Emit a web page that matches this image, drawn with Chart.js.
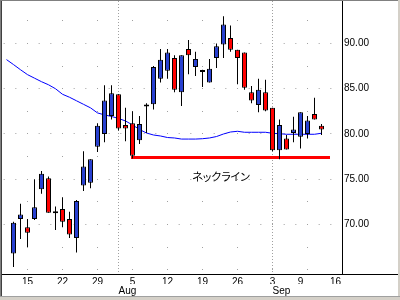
<!DOCTYPE html>
<html>
<head>
<meta charset="utf-8">
<script src="https://cdn.jsdelivr.net/npm/chart.js@4.4.0/dist/chart.umd.min.js"></script>
<style>
  html, body { margin: 0; padding: 0; background: #fff; }
  #wrap { width: 400px; height: 300px; }
</style>
</head>
<body>
<div id="wrap"><canvas id="candles" width="400" height="300"></canvas></div>
<script>
// trading days shown, Jul 10 .. Sep 16
var dates = ['07-10','07-11','07-12','07-15','07-16','07-17','07-18','07-19','07-22','07-23','07-24','07-25','07-26','07-29','07-30','07-31',
  '08-01','08-02','08-05','08-06','08-07','08-08','08-09','08-12','08-13','08-14','08-15','08-16','08-19','08-20','08-21','08-22','08-23',
  '08-26','08-27','08-28','08-29','08-30','09-03','09-04','09-05','09-06','09-09','09-10','09-11','09-12','09-13','09-16'];

var opens = [null, 66.8, 70.6, 69.7, 70.6, 73.9, 75.1, 71.25, 71.7, 70.6, 68.5, 74.3, 74.6, 78.6, 80.0, 82.0,
  84.4, 81.0, 81.2, 79.3, 83.05, 83.3, 86.1, 87.0, 88.4, 84.6, 89.4, 87.4, 86.85, 85.7, 88.4, 89.9, 90.6,
  89.3, 89.0, 84.6, 83.2, 84.6, 82.9, 78.2, 79.5, 80.1, 79.7, 80.0, 82.2, 80.9, null, null];
var highs = [null, 70.3, 72.3, 70.6, 75.0, 75.9, 75.3, 72.0, 73.0, 71.4, 72.7, 78.1, 77.2, 81.2, 85.4, 85.4,
  84.4, 82.9, 82.5, 82.0, 83.4, 87.5, 89.4, 89.4, 88.7, 88.7, 90.4, 89.1, 87.1, 88.3, 90.0, 93.0, 92.0,
  89.3, 89.0, 85.3, 86.1, 86.0, 82.9, 81.6, 79.9, 81.9, 82.4, 82.0, 84.0, 81.1, null, null];
var lows = [null, 65.3, 68.4, 67.5, 70.5, 73.4, 71.3, 69.4, 69.7, 68.5, 66.9, 73.7, 74.0, 78.0, 79.1, 81.6,
  80.4, 79.2, 77.3, 78.9, 80.1, 82.7, 85.7, 86.1, 84.6, 83.1, 86.6, 86.4, 85.2, 85.7, 87.3, 88.4, 89.1,
  85.5, 84.9, 83.4, 82.4, 82.5, 78.1, 77.2, 78.3, 79.1, 78.4, 79.5, 81.6, 79.9, null, null];
var closes = [null, 70.2, 71.1, 69.1, 71.9, 75.6, 71.3, 71.25, 70.3, 68.9, 72.6, 76.4, 77.2, 80.9, 83.7, 84.5,
  80.6, 80.6, 77.6, 81.1, 83.05, 87.4, 88.2, 89.0, 84.9, 88.7, 88.7, 88.3, 86.85, 87.2, 89.7, 92.1, 89.3,
  88.4, 85.1, 83.7, 84.9, 82.6, 78.2, 81.0, 78.3, 80.5, 82.4, 81.5, 81.6, 80.5, null, null];
// moving average
var avg = [88.22, 87.67, 87.1, 86.56, 86.17, 85.78, 85.44, 85.0, 84.39, 84.06, 83.67, 83.28, 82.89, 82.33, 82.11, 81.94,
  81.72, 81.44, 81.0, 80.5, 80.11, 79.89, 79.78, 79.61, 79.56, 79.44, 79.44, 79.44, 79.48, 79.56, 79.72, 80.0, 80.22,
  80.3, 80.19, 80.19, 80.19, 80.19, 80.08, 80.03, 79.97, 79.97, 79.97, 79.97, 79.97, 80.08, null, null];

var weekTicks = ['07-15','07-22','07-29','08-05','08-12','08-19','08-26','09-03','09-09','09-16'];
var weekLabels = ['15','22','29','5','12','19','26','3','9','16'];
var monthTicks = ['08-01','09-03'];
var monthLabels = ['Aug','Sep'];
var priceTicks = [70, 75, 80, 85, 90];
var minorTicks = [65, 67.5, 72.5, 77.5, 82.5, 87.5, 92.5];
var neckDates = ['08-05','09-13'];
var neckValue = 77.4;
var neckText = 'ネックライン';

var UP = '#2840d0', DOWN = '#ff0000';

var pos = function (d) { return dates.indexOf(d); };

var wickData = [], bodyData = [], bodyColors = [], avgData = [];
dates.forEach(function (d, i) {
  if (opens[i] !== null) {
    wickData.push({x: i, y: [lows[i], highs[i]]});
    bodyData.push({x: i, y: [opens[i], closes[i]]});
    bodyColors.push(closes[i] > opens[i] ? UP : (closes[i] < opens[i] ? DOWN : '#000'));
  }
  if (avg[i] !== null) avgData.push({x: i, y: avg[i]});
});
var neckData = neckDates.map(function (d) { return {x: pos(d), y: neckValue}; });

// 7px per day, Jul 15 sits at x=27
var xMin = -0.643, xMax = 47.929;
var yMin = 64.53, yMax = 94.696;

Chart.defaults.font.family = '"Liberation Sans", Arial, sans-serif';
Chart.defaults.font.size = 10;
Chart.defaults.color = '#000';

var noPad = function (s) { s.paddingTop = 0; s.paddingBottom = 0; };

var frame = {
  id: 'frame',
  beforeDraw: function (chart) {
    var ctx = chart.ctx;
    ctx.save();
    ctx.fillStyle = '#fff';
    ctx.fillRect(0, 0, chart.width, chart.height);
    ctx.restore();
  },
  afterDraw: function (chart) {
    var ctx = chart.ctx, a = chart.chartArea;
    ctx.save();
    // bottom axis line runs under the price labels too
    ctx.fillStyle = '#000';
    ctx.fillRect(a.right, a.bottom, chart.width - a.right, 1);

    var x = chart.scales.x.getPixelForValue(30.57);
    var y = chart.scales.y.getPixelForValue(75.3);
    ctx.font = '11px "Noto Sans CJK JP"';
    if ('letterSpacing' in ctx) ctx.letterSpacing = '-1.5px';
    ctx.textAlign = 'center';
    ctx.textBaseline = 'middle';
    ctx.fillText(neckText, x, y);
    if ('letterSpacing' in ctx) ctx.letterSpacing = '0px';

    // window edges
    ctx.fillStyle = '#808080';
    ctx.fillRect(0, 0, chart.width, 1);
    ctx.fillRect(0, 0, 1, chart.height);
    ctx.fillStyle = '#404040';
    ctx.fillRect(1, 1, 1, 295);
    ctx.fillStyle = '#a0a0a0';
    ctx.fillRect(0, 296, chart.width, 1);
    ctx.fillStyle = '#d4d0c8';
    ctx.fillRect(0, 297, chart.width, 3);
    ctx.fillRect(398, 0, 2, 296);
    ctx.restore();
  }
};

new Chart(document.getElementById('candles'), {
  type: 'bar',
  data: {
    datasets: [
      {type: 'bar', data: bodyData, backgroundColor: bodyColors, borderColor: '#000', borderWidth: 1,
        borderSkipped: false, barThickness: 5, minBarLength: 2, inflateAmount: 0, grouped: false, order: 0},
      {type: 'bar', data: wickData, backgroundColor: '#000', borderWidth: 0,
        barThickness: 1, inflateAmount: 0, grouped: false, order: 1},
      {type: 'line', data: avgData, borderColor: '#0000ff', borderWidth: 1, pointRadius: 0,
        tension: 0, fill: false, order: 2},
      {type: 'line', data: neckData, borderColor: '#ff0000', borderWidth: 3, pointRadius: 0,
        borderCapStyle: 'square', fill: false, order: 3}
    ]
  },
  options: {
    responsive: false,
    animation: false,
    devicePixelRatio: 1,
    events: [],
    layout: {padding: {left: 2, top: 1, right: 0, bottom: 4}},
    plugins: {legend: {display: false}, tooltip: {enabled: false}},
    scales: {
      x: {
        type: 'linear', position: 'bottom', weight: 0, min: xMin, max: xMax, bounds: 'data', offset: false,
        grid: {drawOnChartArea: false, drawTicks: false, offset: false},
        border: {display: true, color: '#000', width: 1},
        ticks: {autoSkip: false, maxRotation: 0, padding: 2,
          callback: function (v, i) { return weekLabels[i]; }},
        afterBuildTicks: function (s) { s.ticks = weekTicks.map(function (d) { return {value: pos(d)}; }); },
        afterFit: function (s) { s.height = 10; }
      },
      xm: {
        type: 'linear', position: 'bottom', weight: 1, min: xMin, max: xMax, bounds: 'data', offset: false,
        grid: {color: '#a0a0a0', drawTicks: false, offset: false},
        border: {display: false, dash: [1, 2]},
        ticks: {autoSkip: false, maxRotation: 0, padding: 1, align: 'start',
          callback: function (v, i) { return monthLabels[i]; }},
        afterBuildTicks: function (s) { s.ticks = monthTicks.map(function (d) { return {value: pos(d)}; }); },
        afterFit: function (s) { s.height = 12; }
      },
      y: {
        type: 'linear', position: 'right', min: yMin, max: yMax, bounds: 'data', beginAtZero: false,
        grid: {color: '#a0a0a0', drawTicks: false},
        border: {display: true, color: '#000', width: 1, dash: [1, 10.667], dashOffset: 10},
        ticks: {padding: 2, callback: function (v) { return v.toFixed(2); }},
        afterBuildTicks: function (s) { s.ticks = priceTicks.map(function (v) { return {value: v}; }); },
        afterFit: function (s) { s.width = 58; noPad(s); }
      },
      y2: {
        type: 'linear', position: 'right', min: yMin, max: yMax, bounds: 'data', beginAtZero: false,
        grid: {color: '#a0a0a0', drawTicks: false},
        border: {display: false, dash: [1, 34], dashOffset: 10},
        ticks: {display: false},
        afterBuildTicks: function (s) { s.ticks = minorTicks.map(function (v) { return {value: v}; }); },
        afterFit: function (s) { s.width = 0; noPad(s); }
      }
    }
  },
  plugins: [frame]
});
</script>
</body>
</html>
